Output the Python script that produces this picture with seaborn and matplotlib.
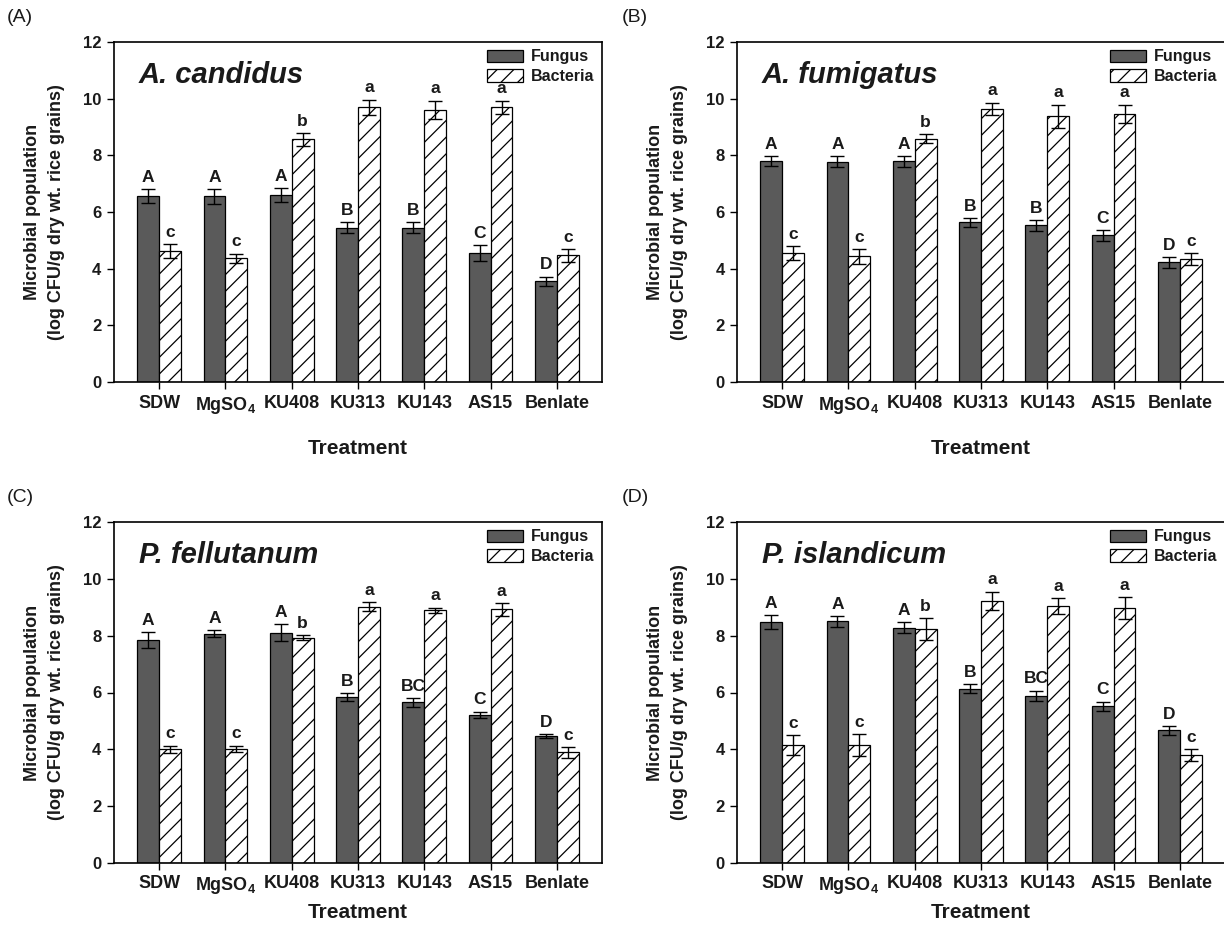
import matplotlib
matplotlib.use("Agg")
import matplotlib.pyplot as plt
import seaborn as sns
import pandas as pd

# ---- data -------------------------------------------------------------
treatments = ["SDW", r"MgSO$_\mathbf{4}$", "KU408", "KU313", "KU143", "AS15", "Benlate"]
groups = ["Fungus", "Bacteria"]

# (A) A. candidus
cand_fungus = [6.57, 6.55, 6.59, 5.45, 5.45, 4.54, 3.56]
cand_fungus_err = [0.25, 0.25, 0.25, 0.18, 0.18, 0.28, 0.16]
cand_bacteria = [4.62, 4.37, 8.57, 9.69, 9.61, 9.69, 4.47]
cand_bacteria_err = [0.25, 0.16, 0.23, 0.28, 0.32, 0.24, 0.22]
cand_fungus_letters = ["A", "A", "A", "B", "B", "C", "D"]
cand_bacteria_letters = ["c", "c", "b", "a", "a", "a", "c"]

# (B) A. fumigatus
fumi_fungus = [7.79, 7.77, 7.79, 5.63, 5.53, 5.18, 4.22]
fumi_fungus_err = [0.18, 0.19, 0.19, 0.15, 0.19, 0.19, 0.20]
fumi_bacteria = [4.54, 4.44, 8.58, 9.64, 9.38, 9.47, 4.34]
fumi_bacteria_err = [0.25, 0.26, 0.16, 0.22, 0.41, 0.32, 0.21]
fumi_fungus_letters = ["A", "A", "A", "B", "B", "C", "D"]
fumi_bacteria_letters = ["c", "c", "b", "a", "a", "a", "c"]

# (C) P. fellutanum
fell_fungus = [7.84, 8.07, 8.11, 5.84, 5.65, 5.21, 4.47]
fell_fungus_err = [0.29, 0.12, 0.30, 0.15, 0.16, 0.12, 0.08]
fell_bacteria = [4.00, 4.01, 7.93, 9.02, 8.89, 8.93, 3.89]
fell_bacteria_err = [0.13, 0.12, 0.09, 0.15, 0.10, 0.23, 0.20]
fell_fungus_letters = ["A", "A", "A", "B", "BC", "C", "D"]
fell_bacteria_letters = ["c", "c", "b", "a", "a", "a", "c"]

# (D) P. islandicum
isl_fungus = [8.48, 8.51, 8.28, 6.14, 5.89, 5.52, 4.67]
isl_fungus_err = [0.23, 0.19, 0.20, 0.16, 0.18, 0.16, 0.15]
isl_bacteria = [4.15, 4.16, 8.23, 9.23, 9.04, 8.97, 3.81]
isl_bacteria_err = [0.34, 0.39, 0.40, 0.32, 0.28, 0.39, 0.21]
isl_fungus_letters = ["A", "A", "A", "B", "BC", "C", "D"]
isl_bacteria_letters = ["c", "c", "b", "a", "a", "a", "c"]

panels = [
    ("(A)", "A. candidus", cand_fungus, cand_fungus_err, cand_bacteria, cand_bacteria_err,
     cand_fungus_letters, cand_bacteria_letters),
    ("(B)", "A. fumigatus", fumi_fungus, fumi_fungus_err, fumi_bacteria, fumi_bacteria_err,
     fumi_fungus_letters, fumi_bacteria_letters),
    ("(C)", "P. fellutanum", fell_fungus, fell_fungus_err, fell_bacteria, fell_bacteria_err,
     fell_fungus_letters, fell_bacteria_letters),
    ("(D)", "P. islandicum", isl_fungus, isl_fungus_err, isl_bacteria, isl_bacteria_err,
     isl_fungus_letters, isl_bacteria_letters),
]

# ---- style ------------------------------------------------------------
sns.set_style("ticks")
plt.rcParams["font.family"] = ["Liberation Sans", "DejaVu Sans"]
plt.rcParams["mathtext.fontset"] = "custom"
plt.rcParams["mathtext.rm"] = "Liberation Sans:bold"
plt.rcParams["mathtext.bf"] = "Liberation Sans:bold"
plt.rcParams["hatch.linewidth"] = 0.9
plt.rcParams["hatch.color"] = "black"

W, H = 1224, 933
fig = plt.figure(figsize=(W / 100, H / 100), dpi=100)

# axes boxes in pixels: left, top, right, bottom
boxes = [(114, 42, 602, 382), (737, 42, 1225, 382),
         (114, 522, 602, 863), (737, 522, 1225, 863)]
label_pos = [(7, 17), (622, 17), (7, 497), (622, 497)]
xlabel_pads = [17, 17, 5, 5]

palette = {"Fungus": "#5a5a5a", "Bacteria": "white"}

for (tag, title, f, fe, b, be, fl, bl), (l, t, r, bt), (lx, ly), xpad in zip(
        panels, boxes, label_pos, xlabel_pads):
    ax = fig.add_axes([l / W, 1 - bt / H, (r - l) / W, (bt - t) / H])
    df = pd.DataFrame({
        "Treatment": treatments * 2,
        "Group": ["Fungus"] * len(treatments) + ["Bacteria"] * len(treatments),
        "Value": list(f) + list(b),
    })
    sns.barplot(data=df, x="Treatment", y="Value", hue="Group", hue_order=groups,
                order=treatments, palette=palette, errorbar=None, width=0.66,
                edgecolor="black", linewidth=0.9, legend=False, ax=ax)

    for p in ax.containers[1]:
        p.set_hatch("//")

    for cont, errs, letters in ((ax.containers[0], fe, fl), (ax.containers[1], be, bl)):
        xs = [p.get_x() + p.get_width() / 2 for p in cont]
        ys = [p.get_height() for p in cont]
        ax.errorbar(xs, ys, yerr=errs, fmt="none", ecolor="black", elinewidth=1.0,
                    capsize=5, capthick=1.0, zorder=5)
        for x, y, e, s in zip(xs, ys, errs, letters):
            ax.annotate(s, (x, y + e), xytext=(0, 3), textcoords="offset points",
                        ha="center", va="bottom", fontsize=12.5, fontweight="bold",
                        color="#1a1a1a")

    ax.set_xlim(-0.68, 6.68)
    ax.set_ylim(0, 12)
    ax.set_yticks(range(0, 13, 2))
    for s in ax.spines.values():
        s.set_visible(True)
        s.set_linewidth(1.2)
        s.set_color("black")
    ax.tick_params(axis="both", direction="out", length=5, width=1.0, pad=4,
                   colors="black")
    ax.tick_params(axis="x", labelsize=13)
    ax.tick_params(axis="y", labelsize=12)
    for lab in ax.get_xticklabels() + ax.get_yticklabels():
        lab.set_fontweight("bold")
        lab.set_color("#1a1a1a")

    ax.set_xlabel("Treatment", fontsize=15, fontweight="bold", labelpad=xpad,
                  color="#1a1a1a")
    ax.set_ylabel("Microbial population\n(log CFU/g dry wt. rice grains)",
                  fontsize=13, fontweight="bold", labelpad=13, linespacing=1.55,
                  color="#1a1a1a")

    ax.text(0.051, 0.879, title, transform=ax.transAxes, fontsize=21,
            fontweight="bold", fontstyle="italic", va="baseline", ha="left",
            color="#1a1a1a")

    handles = [ax.containers[0][0], ax.containers[1][0]]
    ax.legend(handles, groups, loc="upper right", frameon=False,
              prop={"weight": "bold", "size": 11.5}, handlelength=2.3,
              handleheight=0.8, handletextpad=0.5, labelspacing=0.3,
              borderaxespad=0.15, borderpad=0.3, labelcolor="#1a1a1a")

    fig.text(lx / W, 1 - ly / H, tag, fontsize=14, va="center", ha="left",
             color="#1a1a1a")

fig.savefig("out.png", dpi=100, facecolor="white")
